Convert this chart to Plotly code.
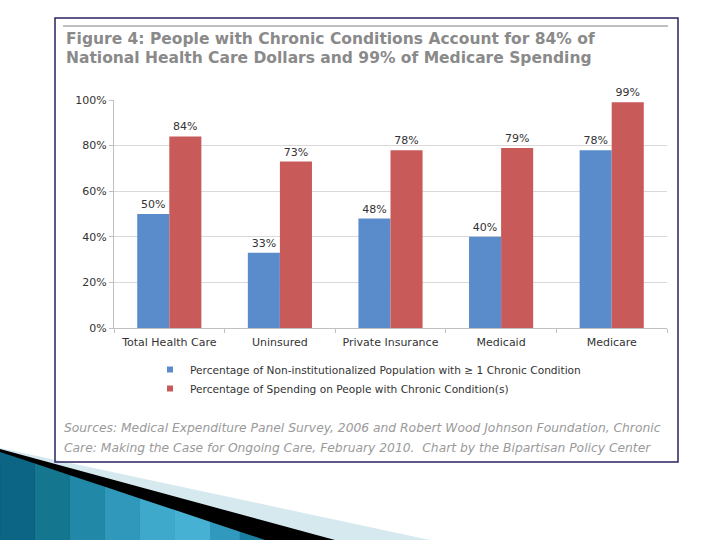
import plotly.graph_objects as go

# chart data
categories = ["Total Health Care", "Uninsured", "Private Insurance", "Medicaid", "Medicare"]
population_pct = [50, 33, 48, 40, 78]
spending_pct = [84, 73, 78, 79, 99]
series_names = [
    "Percentage of Non-institutionalized Population with \u2265 1 Chronic Condition",
    "Percentage of Spending on People with Chronic Condition(s)",
]
y_ticks = [0, 20, 40, 60, 80, 100]

W, H = 720, 540
# plot area in pixels
PL, PR, PT, PB = 114, 667, 100, 328


def px(x):
    return (x - PL) / (PR - PL)


def py(y):
    return (PB - y) / (PB - PT)


def poly(points):
    return "M " + " L ".join(f"{px(x):.4f},{py(y):.4f}" for x, y in points) + " Z"


BLUE = "#5a8ccc"
RED = "#c95a5a"
TXT = "#333333"
FONT = "DejaVu Sans"

fig = go.Figure()
for name, vals, col in [(series_names[0], population_pct, BLUE), (series_names[1], spending_pct, RED)]:
    fig.add_trace(go.Bar(
        name=name, x=categories, y=vals, marker_color=col, marker_line_width=0,
        text=[f"{v}%" for v in vals], textposition="outside",
        textfont=dict(size=11, color=TXT, family=FONT), cliponaxis=False,
        showlegend=False,
    ))
# small square legend keys like the original
for name, col in [(series_names[0], BLUE), (series_names[1], RED)]:
    fig.add_trace(go.Scatter(x=[None], y=[None], mode="markers", name=name,
                             marker=dict(symbol="square", size=6, color=col)))

shapes = []
# slide decoration, bottom-left
shapes.append(dict(type="path", path=poly([(0, 448), (430, 540), (0, 540)]),
                   fillcolor="#d6e9ef", line_width=0))
shapes.append(dict(type="path", path=poly([(0, 449), (335, 540), (0, 540)]),
                   fillcolor="#000000", line_width=0))
blue_slices = [(0, 35, "#0c6584"), (35, 70, "#15768f"), (70, 105, "#2188a8"), (105, 140, "#3099bb"),
               (140, 175, "#3fa9cb"), (175, 210, "#47b1d3"), (210, 240, "#3199bd"), (240, 266, "#1a7ea2")]
for x0, x1, c in blue_slices:
    y0 = 452 + 88 * x0 / 265
    y1 = 452 + 88 * x1 / 265
    shapes.append(dict(type="path", path=poly([(x0, y0), (x1, y1), (x1, 540), (x0, 540)]),
                       fillcolor=c, line_width=0))
# picture frame and top rule
shapes.append(dict(type="rect", x0=px(55), x1=px(678), y0=py(462), y1=py(18),
                   line=dict(color="#2d2060", width=1.5), fillcolor="rgba(0,0,0,0)"))
shapes.append(dict(type="line", x0=px(63), x1=px(668), y0=py(26), y1=py(26),
                   line=dict(color="#aaaaaa", width=1.5)))
for s in shapes:
    s.update(xref="paper", yref="paper", layer="below")

GREY = "#8a8a8a"
annotations = [
    dict(text="Figure 4: People with Chronic Conditions Account for 84% of",
         x=px(64), y=py(39), xanchor="left", yanchor="middle",
         font=dict(size=15.5, color=GREY, family=FONT, weight="bold")),
    dict(text="National Health Care Dollars and 99% of Medicare Spending",
         x=px(64), y=py(57.5), xanchor="left", yanchor="middle",
         font=dict(size=15.5, color=GREY, family=FONT, weight="bold")),
    dict(text="<i>Sources: Medical Expenditure Panel Survey, 2006 and Robert Wood Johnson Foundation, Chronic</i>",
         x=px(62), y=py(428), xanchor="left", yanchor="middle",
         font=dict(size=12.3, color="#9a9a9a", family=FONT)),
    dict(text="<i>Care: Making the Case for Ongoing Care, February 2010.  Chart by the Bipartisan Policy Center</i>",
         x=px(62), y=py(448), xanchor="left", yanchor="middle",
         font=dict(size=12.3, color="#9a9a9a", family=FONT)),
]
for a in annotations:
    a.update(xref="paper", yref="paper", showarrow=False)

fig.update_layout(
    width=W, height=H,
    margin=dict(l=PL, r=W - PR, t=PT, b=H - PB),
    paper_bgcolor="white", plot_bgcolor="white",
    barmode="group", bargap=0.42, bargroupgap=0,
    font=dict(family=FONT, size=11, color=TXT),
    showlegend=True,
    legend=dict(x=px(150), y=py(355), xanchor="left", yanchor="top",
                orientation="v", itemwidth=30, font=dict(size=10.6, color=TXT),
                bgcolor="rgba(0,0,0,0)"),
    shapes=shapes, annotations=annotations,
)
fig.update_xaxes(showline=True, linecolor="#c0c0c0", linewidth=1,
                 ticks="outside", tickson="boundaries", ticklen=4, tickcolor="#c0c0c0",
                 ticklabelstandoff=4, tickfont=dict(size=11, color=TXT))
fig.update_yaxes(range=[0, 100], tickvals=y_ticks, ticktext=[f"{t}%" for t in y_ticks],
                 showline=True, linecolor="#c0c0c0", linewidth=1,
                 ticks="outside", ticklen=4, tickcolor="#c0c0c0",
                 gridcolor="#d9d9d9", zeroline=False,
                 tickfont=dict(size=11, color=TXT))

# drop the browser's default 8px page margin so the figure sits at the window corner
fig.write_html("out.html", config={"displayModeBar": False},
               post_script="document.body.style.margin='0';")
